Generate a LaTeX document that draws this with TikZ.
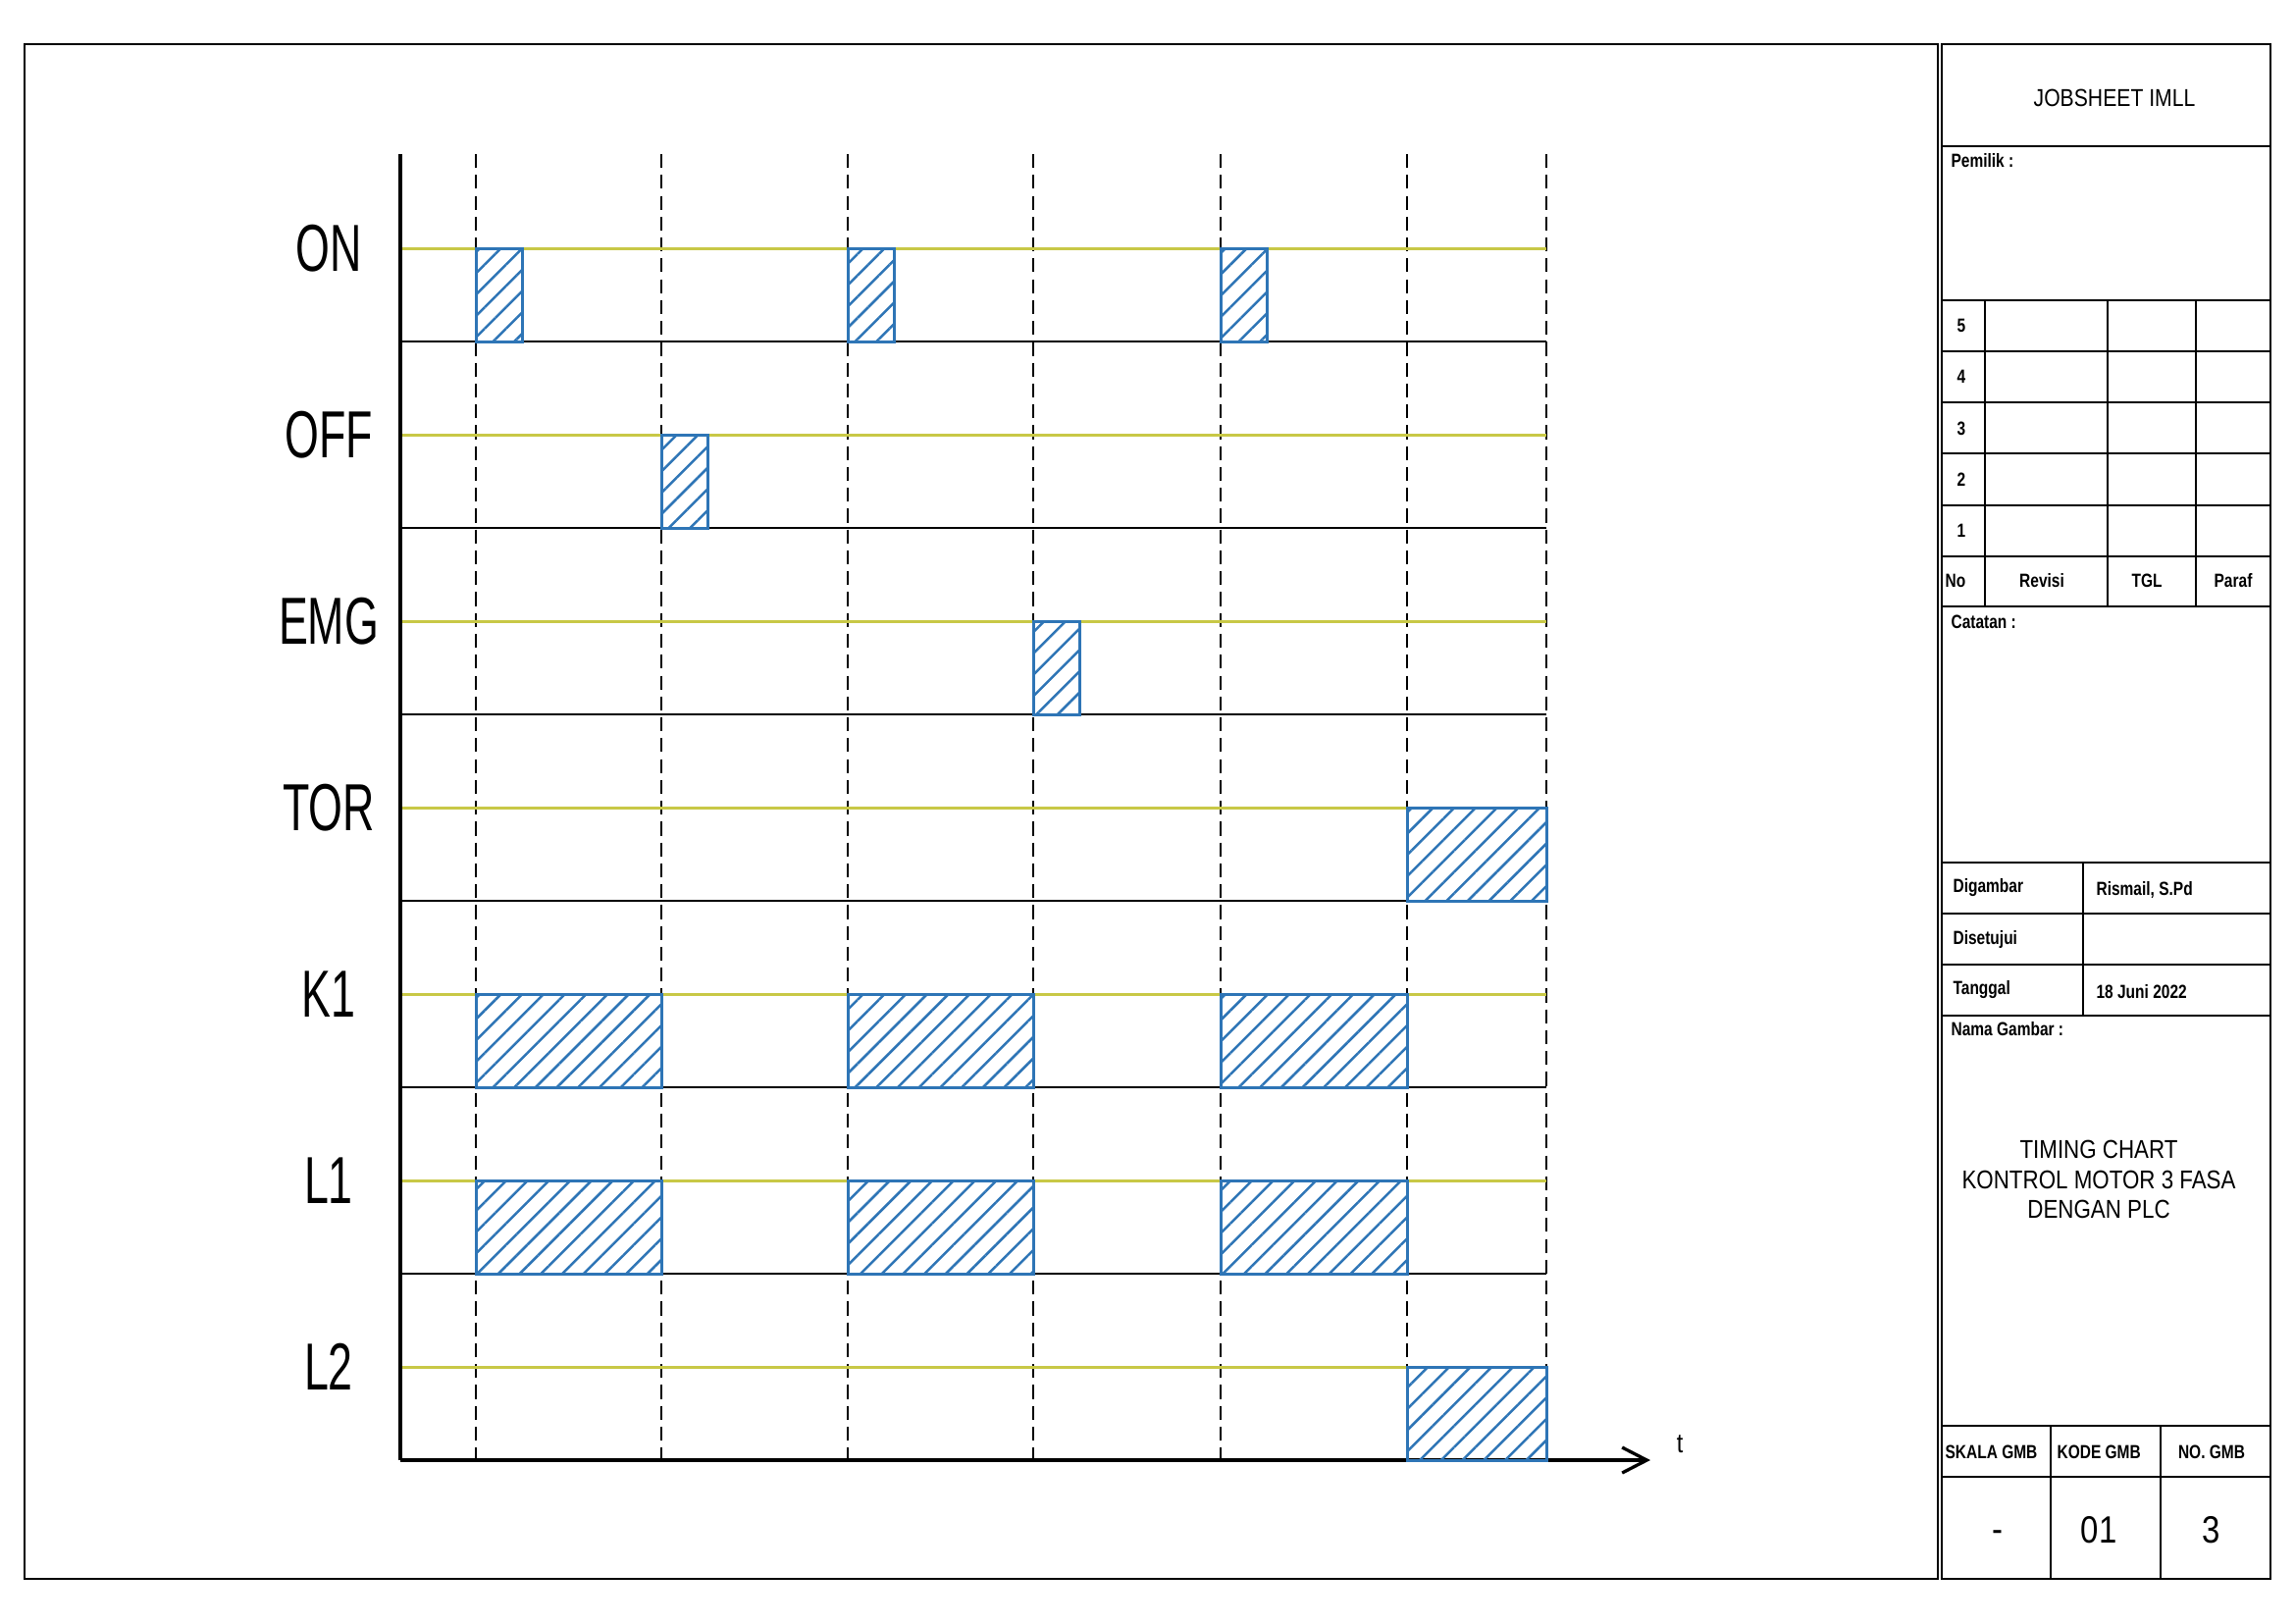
\documentclass[tikz,border=0pt]{standalone}
\usepackage{fontspec}
\setmainfont{Liberation Sans}
\newfontfamily\signalfont[FakeStretch=0.66]{Liberation Sans}
\newfontfamily\simplexfont[FakeStretch=0.85]{Liberation Sans}
\newfontfamily\tbfont[FakeStretch=0.8]{Liberation Sans}
\usepackage{tikz}
\usetikzlibrary{arrows.meta, patterns.meta}
\usepackage{xcolor}
\definecolor{ChartBlack}{HTML}{000000}
\definecolor{ChartBlue}{HTML}{2E75B6}
\definecolor{ChartYellow}{HTML}{C8C846}
\tikzset{
    % Line styles - sheet frame and title block
    frameline/.style={
        draw=ChartBlack,
        line width=0.3mm
    },
    % Line styles - timing chart
    axisline/.style={
        draw=ChartBlack,
        line width=0.42mm
    },
    lowline/.style={
        draw=ChartBlack,
        line width=0.35mm
    },
    highline/.style={
        draw=ChartYellow,
        line width=0.38mm
    },
    timeline/.style={
        draw=ChartBlack,
        line width=0.3mm,
        dash pattern=on 1.8mm off 0.9mm
    },
    hatchbox/.style={
        draw=ChartBlue,
        line width=0.38mm,
        pattern={Lines[angle=45, distance=1.95mm, line width=0.32mm]},
        pattern color=ChartBlue
    },
    timearrow/.style={
        -{Straight Barb[length=3.2mm, width=3.3mm]},
        draw=ChartBlack,
        line width=0.42mm
    },
    % Text styles
    signal/.style={
        font=\signalfont\fontsize{24.5}{28}\selectfont,
        inner sep=0pt
    },
    sheettitle/.style={
        font=\simplexfont\fontsize{9}{11}\selectfont,
        inner sep=0pt
    },
    field/.style={
        font=\tbfont\bfseries\fontsize{7}{8.5}\selectfont,
        inner sep=0pt
    },
    drawingname/.style={
        font=\simplexfont\fontsize{9.5}{11}\selectfont,
        align=center,
        inner sep=0pt
    },
    bigvalue/.style={
        font=\simplexfont\fontsize{14}{16}\selectfont,
        inner sep=0pt
    }
}

\begin{document}
\begin{tikzpicture}[x=0.127mm, y=-0.127mm]
    \useasboundingbox (0,0) rectangle (2339,1654);

    % sheet frame
    \draw[frameline] (25,45) rectangle (1975,1609);
    \draw[frameline] (1979,45) rectangle (2314,1609);

    % time grid
    \foreach \tx in {485,674,864,1053,1244,1434,1576}
        \draw[timeline] (\tx,157) -- (\tx,1488);

    % signal rows
    \foreach \sig [count=\r from 0] in {ON,OFF,EMG,TOR,K1,L1,L2} {
        \pgfmathsetmacro{\yh}{253+190*\r}
        \draw[highline] (408,\yh) -- (1576,\yh);
        \node[signal] (sig\sig) at (335,\yh) {\sig};
    }
    \foreach \yl in {348,538,728,918,1108,1298}
        \draw[lowline] (408,\yl) -- (1576,\yl);

    \coordinate (origin) at (408,1488);
    \coordinate (tend) at (1682,1488);
    \draw[axisline] (408,157) -- (origin);
    \draw[timearrow] (origin) -- (tend);
    \node[sheettitle, font=\simplexfont\fontsize{10}{12}\selectfont] (tlabel) at (1712,1472) {t};

    % hatched pulses: start/end/row
    \foreach \xa/\xb/\r in {485/532/0, 864/911/0, 1244/1291/0,
                            674/721/1,
                            1053/1100/2,
                            1434/1576/3,
                            485/674/4, 864/1053/4, 1244/1434/4,
                            485/674/5, 864/1053/5, 1244/1434/5,
                            1434/1576/6}
        \draw[hatchbox] (\xa,{253+190*\r}) rectangle (\xb,{348+190*\r});

    % title block rules
    \foreach \ty in {149,306,358,410,462,515,567,618,879,931,983,1035,1453,1505}
        \draw[frameline] (1979,\ty) -- (2314,\ty);
    \foreach \tx in {2023,2148,2238}
        \draw[frameline] (\tx,306) -- (\tx,618);
    \draw[frameline] (2123,879) -- (2123,1035);
    \foreach \tx in {2090,2202}
        \draw[frameline] (\tx,1453) -- (\tx,1609);

    % title block texts
    \node[sheettitle] (jobsheet) at (2155,100) {JOBSHEET IMLL};
    \node[field, anchor=west] (pemilik) at (1988,164) {Pemilik :};
    \foreach \n [count=\i from 0] in {5,4,3,2,1}
        \node[field] (rev\n) at (1999,{332+52.2*\i}) {\n};
    \node[field] (hno) at (1993,592) {No};
    \node[field] (hrevisi) at (2081,592) {Revisi};
    \node[field] (htgl) at (2188,592) {TGL};
    \node[field] (hparaf) at (2276,592) {Paraf};
    \node[field, anchor=west] (catatan) at (1988,634) {Catatan :};
    \node[field, anchor=west] (digambar) at (1990,905) {Digambar};
    \node[field, anchor=west] (drawer) at (2136,907) {Rismail, S.Pd};
    \node[field, anchor=west] (disetujui) at (1990,957) {Disetujui};
    \node[field, anchor=west] (tanggal) at (1990,1009) {Tanggal};
    \node[field, anchor=west] (date) at (2136,1011) {18 Juni 2022};
    \node[field, anchor=west] (namagambar) at (1988,1049) {Nama Gambar :};
    \node[drawingname] (title) at (2139,1202) {TIMING CHART\\KONTROL MOTOR 3 FASA\\DENGAN PLC};
    \node[field, anchor=west] (skala) at (1982,1480) {SKALA GMB};
    \node[field, anchor=west] (kode) at (2096,1480) {KODE GMB};
    \node[field] (nogmb) at (2254,1480) {NO. GMB};
    \node[bigvalue] (skalaval) at (2036,1566) {-};
    \node[bigvalue] (kodeval) at (2139,1559) {01};
    \node[bigvalue] (noval) at (2254,1559) {3};
\end{tikzpicture}
\end{document}
